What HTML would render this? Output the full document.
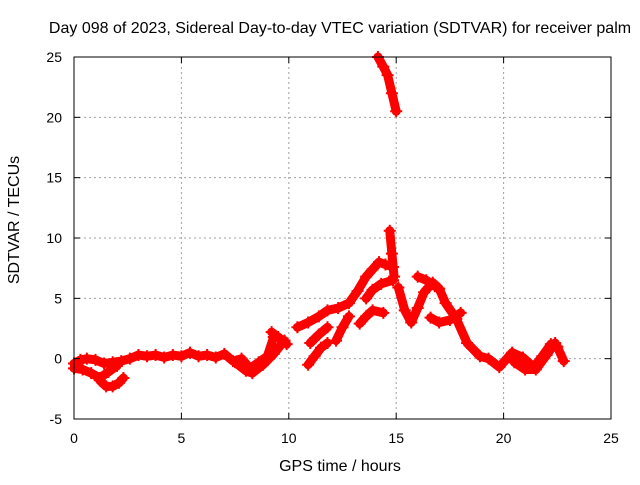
<!DOCTYPE html>
<html><head><meta charset="utf-8"><style>
body{margin:0;background:#fff;}
svg text{font-family:"Liberation Sans",sans-serif;font-size:14px;fill:#000;}
svg text.big{font-size:16px;}
</style></head><body>
<svg id="chart" width="640" height="480" xmlns="http://www.w3.org/2000/svg">
<text class="big" x="340" y="33" text-anchor="middle">Day 098 of 2023, Sidereal Day-to-day VTEC variation (SDTVAR) for receiver palm</text>
<text class="big" x="340" y="471" text-anchor="middle">GPS time / hours</text>
<text class="big" transform="translate(19,220) rotate(-90)" text-anchor="middle">SDTVAR / TECUs</text>
<g id="grid"></g><g id="marks"></g><g id="axes"></g>
</svg>
<script>
const xTicks=[0,5,10,15,20,25];
const yTicks=[-5,0,5,10,15,20,25];
// tracks: times (hours) and values (TECU)
const trackT1=[0,0.3,0.6,1,1.4,1.8,2.2,2.6,3,3.4,3.8,4.2,4.6,5,5.4,5.8,6.2,6.6,7,7.4,7.8,8.2,8.6,9,9.3];
const trackV1=[-0.4,-0.1,0,-0.1,-0.4,-0.3,-0.2,0,0.3,0.2,0.3,0.1,0.3,0.2,0.5,0.2,0.3,0.1,0.4,-0.2,0,-0.8,-0.3,0.2,1.8];
const trackT2=[0,0.4,0.8,1.2,1.6,2];
const trackV2=[-0.8,-0.9,-1.2,-1.6,-1.1,-0.6];
const trackT3=[1.2,1.5,1.8,2.1,2.3];
const trackV3=[-1.8,-2.3,-2.3,-2.0,-1.6];
const trackT4=[7.5,8,8.3,8.8,9.3,9.8];
const trackV4=[-0.3,-1.0,-1.2,-0.5,0.4,1.5];
const trackT5=[9.2,9.5,9.9];
const trackV5=[2.2,1.8,1.2];
const trackT6=[10.4,10.9,11.4,11.8,12.3,12.8,13.2,13.6,13.9,14.2,14.5,14.85];
const trackV6=[2.6,3.0,3.5,4.0,4.2,4.6,5.6,6.8,7.4,8.0,7.8,7.6];
const trackT7=[13.6,13.9,14.3,14.85];
const trackV7=[5.0,5.7,6.2,6.5];
const trackT8=[13.3,13.6,13.9,14.4];
const trackV8=[2.9,3.5,4.0,3.8];
const trackT9=[10.9,11.2,11.5,11.8];
const trackV9=[-0.5,0.2,0.9,1.3];
const trackT10=[11,11.4,11.8];
const trackV10=[1.3,2.0,2.6];
const trackT11=[12.2,12.5,12.8];
const trackV11=[1.5,2.6,3.5];
const trackT12=[14.15,14.4,14.6,14.8,15.0];
const trackV12=[25,24.2,23.5,22,20.5];
const trackT13=[14.7,14.8,14.9];
const trackV13=[10.6,8.7,6.8];
const trackT14=[15.1,15.4,15.7,16.0,16.3,16.7,17.0,17.3,17.8,18.3,18.9,19.3,19.8,20.4,20.9,21.4,21.8,22.2,22.5,22.8];
const trackV14=[5.9,4.0,3.0,4.2,5.5,6.3,5.8,4.6,3.3,1.3,0.2,0,-0.7,0.5,0.1,-0.7,0.2,1.2,1.0,-0.2];
const trackT15=[16,16.4,16.8];
const trackV15=[6.8,6.5,6.0];
const trackT16=[16.6,17.0,17.5,18.0];
const trackV16=[3.4,3.0,3.2,3.8];
const trackT17=[20.5,21,21.5,22,22.4];
const trackV17=[-0.3,-0.9,-0.9,0.3,1.3];
const tracksT=[trackT1,trackT2,trackT3,trackT4,trackT5,trackT6,trackT7,trackT8,trackT9,trackT10,trackT11,trackT12,trackT13,trackT14,trackT15,trackT16,trackT17];
const tracksV=[trackV1,trackV2,trackV3,trackV4,trackV5,trackV6,trackV7,trackV8,trackV9,trackV10,trackV11,trackV12,trackV13,trackV14,trackV15,trackV16,trackV17];

const L=74,R=611,T=57,B=419;
const xs=t=>L+(t-0)/25*(R-L);
const ys=v=>B-(v+5)/30*(B-T);
const NS="http://www.w3.org/2000/svg";
function mk(tag,parent,attrs){const e=document.createElementNS(NS,tag);for(const k in attrs)e.setAttribute(k,attrs[k]);parent.appendChild(e);return e;}
const grid=document.getElementById('grid'),marks=document.getElementById('marks'),axes=document.getElementById('axes');
xTicks.forEach(t=>{
  const x=xs(t);
  if(t>0&&t<25){const g=mk('line',grid,{x1:x,x2:x,y1:T,y2:B,stroke:'#a0a0a0','stroke-dasharray':'2,3'});
  
  }
  const tk=mk('line',axes,{x1:x,x2:x,y1:B,y2:B-6,stroke:'#000'});
  
  
  const tk2=mk('line',axes,{x1:x,x2:x,y1:T,y2:T+6,stroke:'#000'});
  
  
  const lb=mk('text',axes,{x:x,y:B+24,'text-anchor':'middle'});lb.textContent=t;
  
  
});
yTicks.forEach(v=>{
  const y=ys(v);
  if(v>-5&&v<25){const g=mk('line',grid,{x1:L,x2:R,y1:y,y2:y,stroke:'#a0a0a0','stroke-dasharray':'2,3'});
  
  }
  const tk=mk('line',axes,{x1:L,x2:L+6,y1:y,y2:y,stroke:'#000'});
  
  
  const tk2=mk('line',axes,{x1:R,x2:R-6,y1:y,y2:y,stroke:'#000'});
  
  
  const lb=mk('text',axes,{x:L-12,y:y+5,'text-anchor':'end'});lb.textContent=v;
  
  
});
const fr=mk('rect',axes,{x:L,y:T,width:R-L,height:B-T,fill:'none',stroke:'#000','stroke-width':1});


tracksT.forEach((tt,i)=>{
  const vv=tracksV[i];
  const pts=tt.map((t,j)=>xs(t)+','+ys(vv[j])).join(' ');
  const pl=mk('polyline',marks,{points:pts,fill:'none',stroke:'#ff0000','stroke-width':9,'stroke-linejoin':'round','stroke-linecap':'round'});
  
  
  tt.forEach((t,j)=>{
    const x=xs(t),y=ys(vv[j]);
    const p=mk('path',marks,{d:`M${x-6},${y}H${x+6}M${x},${y-6}V${y+6}`,stroke:'#ff0000','stroke-width':2});
    
    
  });
});
</script>
</body></html>
